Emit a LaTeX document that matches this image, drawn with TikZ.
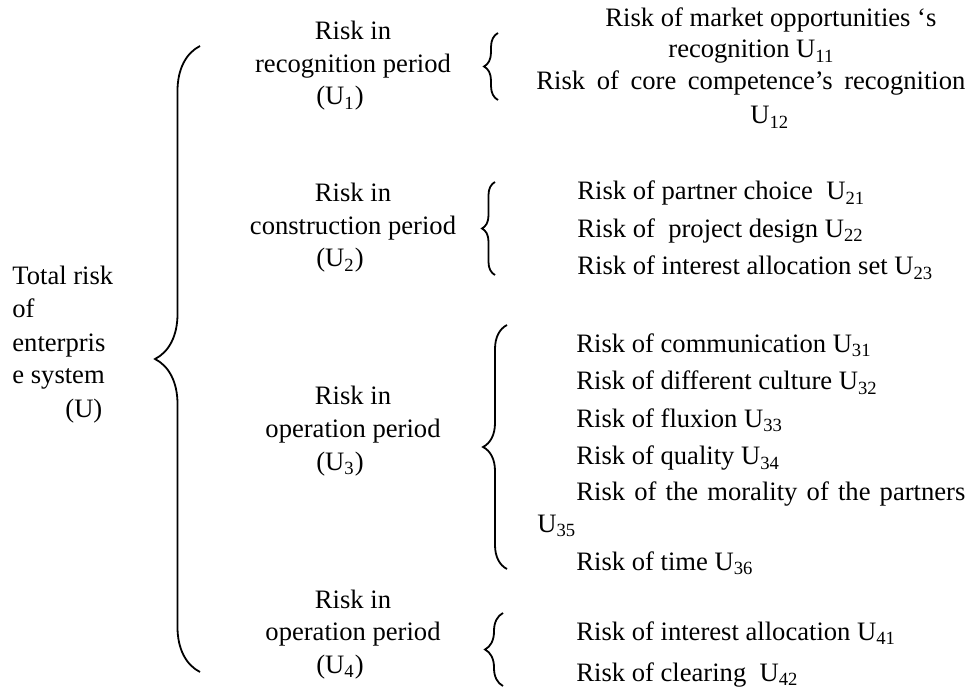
\documentclass[tikz,border=0pt]{standalone}
\usepackage{fontspec}
\setmainfont{Liberation Serif}
\usetikzlibrary{decorations.pathreplacing}
\tikzset{
  lbl/.style={anchor=base west,inner sep=0pt},
  ctr/.style={anchor=base,inner sep=0pt},
  brc/.style={decorate,decoration={brace,amplitude=#1},line width=0.9pt}
}
\newcommand{\Usub}[1]{U\textsubscript{#1}}
\begin{document}
\begin{tikzpicture}[x=0.5pt,y=-0.5pt,font=\fontsize{13.3}{16}\selectfont]
\useasboundingbox (0,0) rectangle (971,690);
% total risk
\node[lbl] (tot1) at (12,285) {Total risk};
\node[lbl] (tot2) at (12,318) {of};
\node[lbl] (tot3) at (12,351) {enterpris};
\node[lbl] (tot4) at (12,384) {e system};
\node[lbl] (tot5) at (65,417) {(U)};
\draw[brc=22.5pt] (200,672) -- (200,46);
% periods
\foreach \k/\y/\name in {1/40/recognition,2/202/construction,3/405/operation,4/608/operation}{
  \node[ctr] (p\k a) at (353,\y) {Risk in};
  \node[ctr] (p\k b) at (353,\y+32.5) {\name\ period};
  \node[ctr] (p\k c) at (340,\y+65) {(\Usub{\k})};
}
% braces of the periods
\draw[brc=7pt] (498,100) -- (498,33);
\draw[brc=6.5pt] (495,275) -- (495,182);
\draw[brc=12pt] (507,569) -- (507,325);
\draw[brc=9pt] (503,686) -- (503,613);
% single risks
\node[lbl] (r11a) at (605,27) {Risk of market opportunities ‘s};
\node[lbl] (r11b) at (668,58) {recognition \Usub{11}};
\node[lbl] (r12a) at (536,90) {\makebox[214.5pt][s]{Risk of core competence’s recognition}};
\node[lbl] (r12b) at (750,124) {\Usub{12}};
\node[lbl] (r21) at (577,200) {Risk of partner choice\ \ \Usub{21}};
\node[lbl] (r22) at (577,237.5) {Risk of\ \ project design \Usub{22}};
\node[lbl] (r23) at (577,275) {Risk of interest allocation set \Usub{23}};
\node[lbl] (r31) at (576,352.5) {Risk of communication \Usub{31}};
\node[lbl] (r32) at (576,390) {Risk of different culture \Usub{32}};
\node[lbl] (r33) at (576,427.5) {Risk of fluxion \Usub{33}};
\node[lbl] (r34) at (576,465) {Risk of quality \Usub{34}};
\node[lbl] (r35a) at (576,500) {\makebox[194.5pt][s]{Risk of the morality of the partners}};
\node[lbl] (r35b) at (537,532) {\Usub{35}};
\node[lbl] (r36) at (576,570) {Risk of time \Usub{36}};
\node[lbl] (r41) at (576,640) {Risk of interest allocation \Usub{41}};
\node[lbl] (r42) at (576,681) {Risk of clearing\ \ \Usub{42}};
\end{tikzpicture}
\end{document}
